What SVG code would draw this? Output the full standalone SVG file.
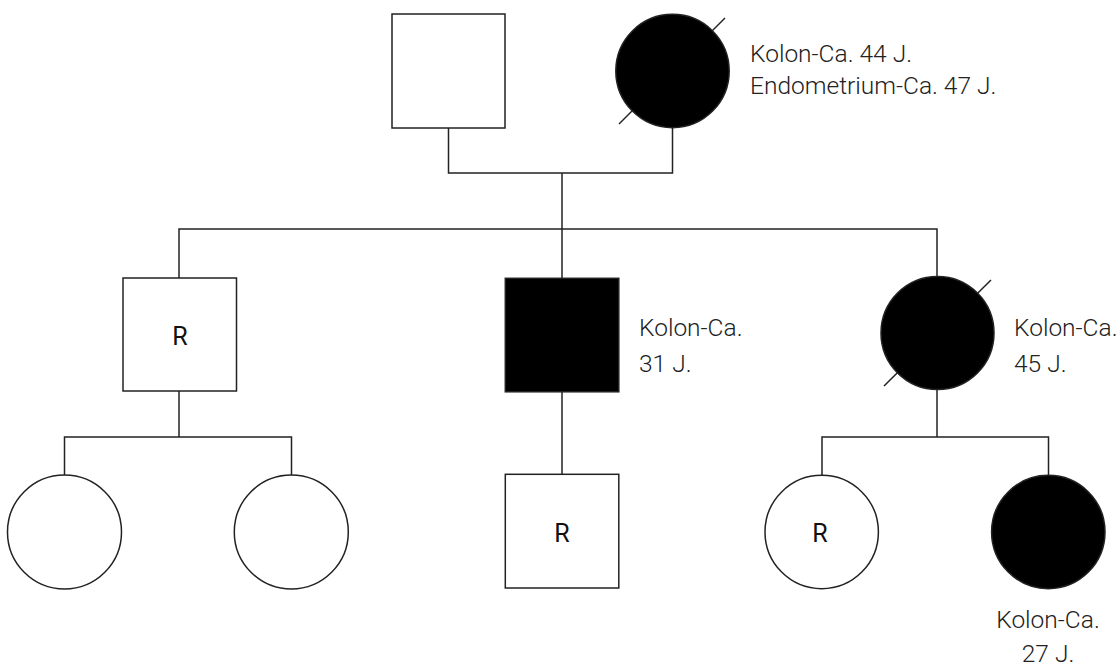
<svg xmlns="http://www.w3.org/2000/svg" width="1120" height="666" viewBox="0 0 1120 666">
<style>
  .n { fill: #ffffff; stroke: #222222; stroke-width: 1.5; }
  .a { fill: #000000; stroke: #222222; stroke-width: 1.5; }
  .d { stroke: #222222; stroke-width: 1.5; }
  .c { fill: none; stroke: #222222; stroke-width: 1.5; }
  .lbl { font-family: Roboto, "Liberation Sans", sans-serif; font-weight: 300; font-size: 24.5px; fill: #222222; }
  .r { font-family: Roboto, "Liberation Sans", sans-serif; font-weight: 400; font-size: 25px; fill: #111111; text-anchor: middle; }
</style>
<rect width="1120" height="666" fill="#ffffff"/>
<g id="connectors">
  <polyline class="c" points="448.5,128 448.5,173 672.5,173 672.5,128"/>
  <line class="c" x1="562" y1="173" x2="562" y2="229"/>
  <polyline class="c" points="179,278 179,229 937,229 937,276"/>
  <line class="c" x1="562" y1="229" x2="562" y2="278"/>
  <line class="c" x1="179" y1="391" x2="179" y2="437"/>
  <polyline class="c" points="64.5,475 64.5,437 291.5,437 291.5,475"/>
  <line class="c" x1="562" y1="392" x2="562" y2="474"/>
  <line class="c" x1="937" y1="390" x2="937" y2="437"/>
  <polyline class="c" points="822,475 822,437 1048.5,437 1048.5,475"/>
</g>
<g id="grandfather">
  <rect class="n" x="392" y="14" width="113" height="114"/>
</g>
<g id="grandmother">
  <line class="d" x1="619" y1="124" x2="725" y2="18"/>
  <circle class="a" cx="672.5" cy="71" r="56.7"/>
  <text class="lbl" x="750" y="62">Kolon-Ca. 44 J.</text>
  <text class="lbl" x="750" y="93.5">Endometrium-Ca. 47 J.</text>
</g>
<g id="son1">
  <rect class="n" x="123" y="278" width="113.5" height="113"/>
  <text class="r" x="180" y="345">R</text>
</g>
<g id="son2">
  <rect class="a" x="505.3" y="278.3" width="113.5" height="113.5"/>
  <text class="lbl" x="639" y="336">Kolon-Ca.</text>
  <text class="lbl" x="639" y="372">31 J.</text>
</g>
<g id="daughter">
  <line class="d" x1="884" y1="386" x2="991" y2="280"/>
  <circle class="a" cx="937.5" cy="333" r="56.5"/>
  <text class="lbl" x="1014" y="336">Kolon-Ca.</text>
  <text class="lbl" x="1014" y="372">45 J.</text>
</g>
<g id="granddaughter1">
  <circle class="n" cx="64.5" cy="532" r="57"/>
</g>
<g id="granddaughter2">
  <circle class="n" cx="291.3" cy="532" r="57"/>
</g>
<g id="grandson">
  <rect class="n" x="505.3" y="474.3" width="113.5" height="113.7"/>
  <text class="r" x="562" y="542">R</text>
</g>
<g id="granddaughter3">
  <circle class="n" cx="821.7" cy="532" r="56.7"/>
  <text class="r" x="820" y="542">R</text>
</g>
<g id="granddaughter4">
  <circle class="a" cx="1048.3" cy="532" r="56.7"/>
  <text class="lbl" x="1048" y="628" text-anchor="middle">Kolon-Ca.</text>
  <text class="lbl" x="1048" y="662" text-anchor="middle">27 J.</text>
</g>
</svg>
